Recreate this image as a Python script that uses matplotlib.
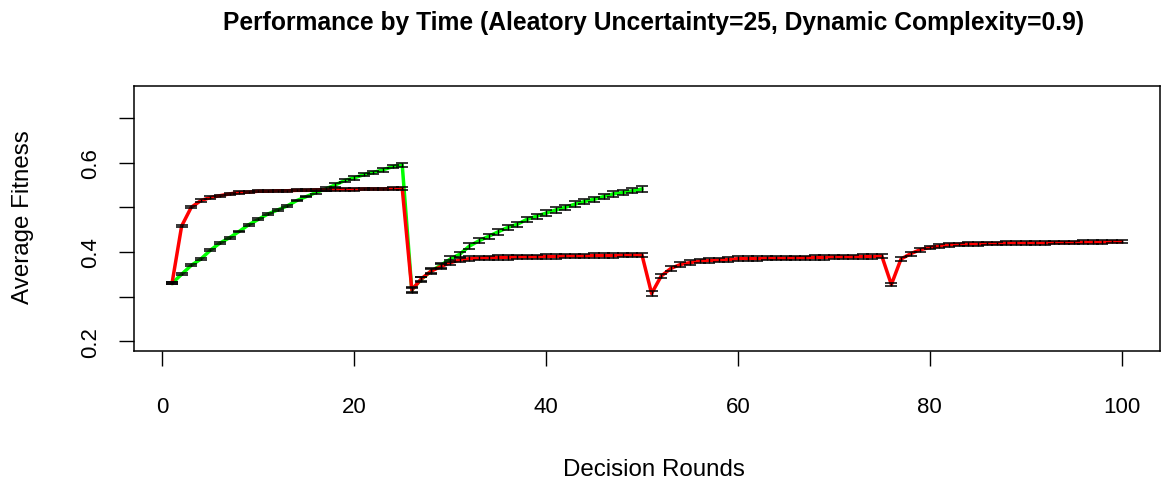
import numpy as np
import matplotlib
matplotlib.use("Agg")
import matplotlib.pyplot as plt

plt.rcParams["font.family"] = ["Liberation Sans", "DejaVu Sans"]

# mean fitness per decision round (red: 100 rounds, green: 50 rounds)
rounds_red = np.arange(1, 101)
fit_red = [0.330, 0.458, 0.500, 0.515, 0.522, 0.526, 0.530, 0.533, 0.534, 0.536,
           0.536, 0.537, 0.537, 0.538, 0.538, 0.539, 0.539, 0.540, 0.540, 0.540,
           0.541, 0.541, 0.541, 0.542, 0.542, 0.315, 0.340, 0.357, 0.367, 0.376,
           0.382, 0.385, 0.386, 0.387, 0.388, 0.388, 0.389, 0.389, 0.389, 0.390,
           0.390, 0.391, 0.391, 0.391, 0.392, 0.392, 0.392, 0.393, 0.393, 0.393,
           0.307, 0.346, 0.363, 0.372, 0.376, 0.380, 0.381, 0.382, 0.383, 0.385,
           0.385, 0.385, 0.386, 0.386, 0.386, 0.387, 0.387, 0.388, 0.388, 0.389,
           0.389, 0.389, 0.390, 0.390, 0.391, 0.327, 0.384, 0.396, 0.405, 0.410,
           0.413, 0.416, 0.417, 0.418, 0.418, 0.419, 0.419, 0.420, 0.420, 0.420,
           0.420, 0.420, 0.421, 0.421, 0.421, 0.422, 0.422, 0.422, 0.423, 0.423]
err_red = [0.0025] * 25 + [0.005] * 25 + [0.005] * 25 + [0.004] * 25

rounds_green = np.arange(1, 51)
fit_green = [0.330, 0.350, 0.370, 0.384, 0.404, 0.420, 0.432, 0.446, 0.461, 0.473,
             0.485, 0.494, 0.503, 0.515, 0.524, 0.533, 0.541, 0.550, 0.560, 0.566,
             0.573, 0.578, 0.584, 0.591, 0.595, 0.315, 0.339, 0.357, 0.370, 0.384,
             0.395, 0.413, 0.425, 0.435, 0.445, 0.455, 0.462, 0.473, 0.480, 0.487,
             0.494, 0.500, 0.507, 0.513, 0.518, 0.524, 0.530, 0.533, 0.537, 0.541]
err_green = [0.002] * 15 + [0.004] * 10 + [0.006] * 25

fig = plt.figure(figsize=(11.76, 4.85), dpi=100)
ax = fig.add_axes([0.114, 0.274, 0.872, 0.547])

ax.plot(rounds_green, fit_green, color="#00ff00", lw=2.5, zorder=2)
ax.plot(rounds_red, fit_red, color="#ff0000", lw=2.5, zorder=3)
ax.errorbar(rounds_green, fit_green, yerr=err_green, fmt="none", ecolor="black",
            elinewidth=1.0, capsize=4, capthick=1.1, zorder=4)
ax.errorbar(rounds_red, fit_red, yerr=err_red, fmt="none", ecolor="black",
            elinewidth=1.0, capsize=4, capthick=1.1, zorder=4)

ax.set_xlim(-2.96, 103.96)
ax.set_ylim(0.178, 0.772)
ax.set_xticks([0, 20, 40, 60, 80, 100])
ax.set_yticks([0.2, 0.3, 0.4, 0.5, 0.6, 0.7])
ax.set_yticklabels(["0.2", "", "0.4", "", "0.6", ""], rotation=90, va="center")
ax.tick_params(axis="both", length=11, width=1, labelsize=16)
ax.tick_params(axis="x", pad=21)
ax.tick_params(axis="y", pad=13)
for s in ax.spines.values():
    s.set_linewidth(1.1)

ax.set_xlabel("Decision Rounds", fontsize=17.4, va="center")
ax.xaxis.set_label_coords(0.507, -0.445)
ax.set_ylabel("Average Fitness", fontsize=17.4, va="center")
ax.yaxis.set_label_coords(-0.108, 0.507)
fig.text(0.556, 0.953, "Performance by Time (Aleatory Uncertainty=25, Dynamic Complexity=0.9)",
         ha="center", va="center", fontsize=17.7, fontweight="bold")

fig.savefig("out.png", dpi=100)
